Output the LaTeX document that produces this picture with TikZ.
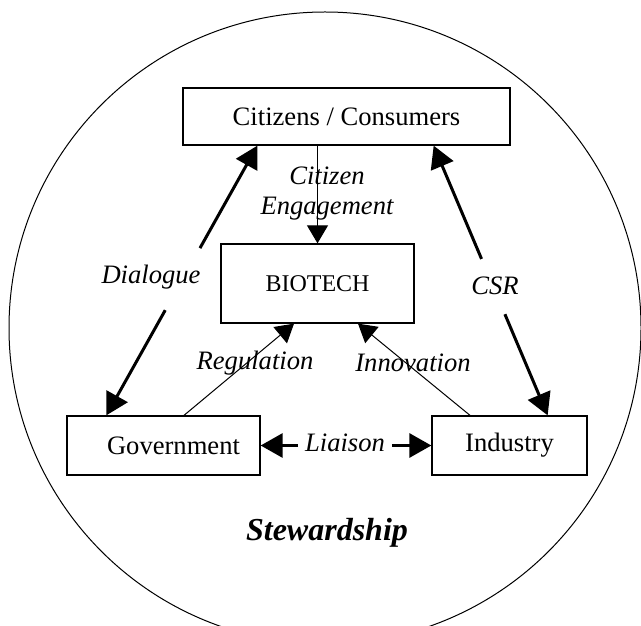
\documentclass[tikz,border=0pt]{standalone}
\usepackage{fontspec}
\setmainfont{Liberation Serif}
\usetikzlibrary{arrows.meta,calc}

\tikzset{
  box/.style={draw, line width=0.65pt, inner sep=0pt, font=\fontsize{13.3}{15}\selectfont},
  lbl/.style={font=\fontsize{13.3}{15}\selectfont\itshape, align=center},
  thickarrow/.style={line width=1.5pt, -{Triangle[length=11pt,width=12pt]}},
  thinarrow/.style={line width=0.5pt, -{Triangle[length=9pt,width=10.5pt]}}
}

\begin{document}
\begin{tikzpicture}[x=0.5pt,y=-0.5pt]
\clip (0,0) rectangle (641,625);
% Outer circle
\draw [line width=0.5pt] (325,328) circle[radius=316];

% Boxes
\node [box, minimum width=163.5pt, minimum height=28.5pt] (citizens) at (346.5,116.5) {Citizens / Consumers};
\node [box, minimum width=96.5pt, minimum height=39.5pt, font=\fontsize{12}{14}\selectfont] (biotech) at (317.5,283.5) {BIOTECH};
\node [box, minimum width=96.5pt, minimum height=29.5pt] (government) at (163.5,445.5) {\hspace{10pt}Government};
\node [box, minimum width=77.5pt, minimum height=29.5pt] (industry) at (509.5,445.5) {Industry};

% Labels
\node [lbl] (engagement) at (327,194) {Citizen\\Engagement};
\node [lbl] (dialogue) at (151,277) {Dialogue};
\node [lbl] (csr) at (495,286) {CSR};
\node [lbl] (regulation) at (255,363) {Regulation};
\node [lbl] (innovation) at (413,363) {Innovation};
\node [lbl] (liaison) at (345,443) {Liaison};
\node [font=\fontsize{16}{18}\selectfont\bfseries\itshape] (stewardship) at (327,533) {Stewardship};

% Thin arrows into BIOTECH
\draw [thinarrow] (citizens.south -| biotech.north) -- (biotech.north);
\draw [thinarrow] ($(government.north)+(20.5,0)$) -- ($(biotech.south)+(-23.5,0)$);
\draw [thinarrow] ($(industry.north)+(-39.5,0)$) -- ($(biotech.south)+(40.5,0)$);

% Dialogue line
\coordinate (dlg-top) at ($(citizens.south west)+(75,0)$);
\coordinate (dlg-bot) at ($(government.north west)+(40,0)$);
\draw [thickarrow] ($(dlg-top)!0.38!(dlg-bot)$) -- (dlg-top);
\draw [thickarrow] ($(dlg-top)!0.61!(dlg-bot)$) -- (dlg-bot);

% CSR line
\coordinate (csr-top) at ($(citizens.south east)+(-77,0)$);
\coordinate (csr-bot) at ($(industry.north east)+(-40,0)$);
\draw [thickarrow] ($(csr-top)!0.42!(csr-bot)$) -- (csr-top);
\draw [thickarrow] ($(csr-top)!0.625!(csr-bot)$) -- (csr-bot);

% Liaison
\draw [thickarrow] (liaison.west |- government.east) -- (government.east);
\draw [thickarrow] (liaison.east |- industry.west) -- (industry.west);
\end{tikzpicture}
\end{document}
